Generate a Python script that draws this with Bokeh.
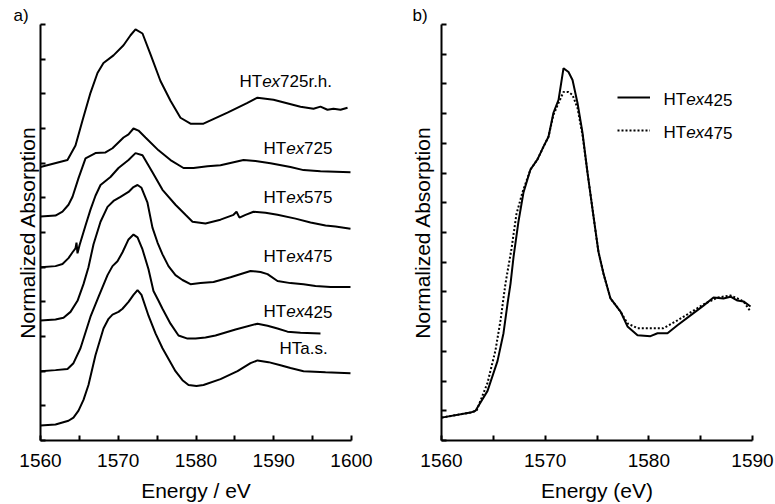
from bokeh.plotting import figure
from bokeh.layouts import row
from bokeh.models import (ColumnDataSource, Legend, LegendItem, FixedTicker,
                          CustomJSTickFormatter, Range1d)
from bokeh.core.properties import value
from bokeh.embed import file_html
from bokeh.resources import INLINE

FONT = "Liberation Sans"

# ---------------- panel a data (energy in eV, offset normalized absorption) ----------------
e_725rh = [1560.0, 1563.47, 1564.5, 1565.4, 1566.43, 1567.33, 1568.1, 1569.39, 1570.68, 1571.58,
           1572.22, 1573.12, 1574.15, 1575.43, 1576.72, 1578.0, 1579.29, 1580.96, 1584.05, 1586.62,
           1587.91, 1589.97, 1593.44, 1595.11, 1596.01, 1596.91, 1597.68, 1598.59, 1599.49]
a_725rh = [7.89, 8.09, 8.51, 9.23, 10.03, 10.6, 10.89, 11.11, 11.4, 11.69,
           11.86, 11.74, 11.14, 10.37, 9.8, 9.31, 9.14, 9.14, 9.46, 9.74,
           9.89, 9.83, 9.63, 9.57, 9.63, 9.54, 9.57, 9.54, 9.6]

e_725 = [1560.0, 1561.93, 1562.83, 1563.6, 1564.12, 1564.89, 1565.79, 1567.07, 1568.36, 1569.26,
         1570.68, 1571.32, 1571.96, 1572.6, 1573.5, 1575.18, 1576.72, 1578.39, 1579.68, 1581.48,
         1583.15, 1586.11, 1587.65, 1589.58, 1592.15, 1593.83, 1596.01, 1599.87]
a_725 = [6.46, 6.49, 6.6, 6.8, 7.03, 7.57, 8.14, 8.29, 8.31, 8.43,
         8.74, 8.83, 9.0, 8.94, 8.74, 8.37, 8.09, 7.86, 7.86, 7.91,
         7.94, 8.09, 8.06, 8.0, 7.89, 7.8, 7.77, 7.74]

e_575 = [1560.0, 1561.93, 1562.83, 1563.6, 1564.12, 1564.5, 1564.63, 1564.76, 1565.02, 1565.79,
         1566.43, 1567.07, 1567.72, 1569.0, 1570.03, 1571.32, 1572.22, 1573.12, 1574.4, 1575.69,
         1577.36, 1578.65, 1579.55, 1581.22, 1583.15, 1584.82, 1585.21, 1585.59, 1586.37, 1587.4,
         1588.94, 1590.48, 1592.8, 1594.73, 1596.66, 1597.94, 1599.87]
a_575 = [5.0, 5.03, 5.09, 5.26, 5.43, 5.54, 5.71, 5.4, 5.63, 6.2,
         6.66, 7.06, 7.37, 7.6, 7.86, 8.09, 8.29, 8.23, 7.74, 7.23,
         6.8, 6.51, 6.31, 6.26, 6.37, 6.51, 6.6, 6.43, 6.51, 6.6,
         6.57, 6.51, 6.4, 6.29, 6.2, 6.17, 6.11]

e_475 = [1560.0, 1561.93, 1562.96, 1563.86, 1564.76, 1565.53, 1566.17, 1566.82, 1567.72, 1568.62,
         1569.39, 1570.29, 1571.32, 1571.96, 1572.48, 1572.99, 1573.76, 1574.4, 1575.05, 1575.69,
         1576.46, 1577.36, 1578.26, 1579.29, 1580.58, 1582.25, 1584.44, 1587.01, 1588.3, 1589.2,
         1590.48, 1592.15, 1593.83, 1595.37, 1597.3, 1599.87]
a_475 = [3.46, 3.49, 3.54, 3.71, 4.03, 4.51, 5.0, 5.66, 6.31, 6.74,
         6.91, 7.03, 7.17, 7.31, 7.37, 7.29, 6.86, 6.14, 5.71, 5.37,
         5.03, 4.77, 4.63, 4.51, 4.54, 4.57, 4.71, 4.89, 4.86, 4.8,
         4.6, 4.54, 4.51, 4.46, 4.43, 4.43]

e_425 = [1560.0, 1561.93, 1563.47, 1564.24, 1565.14, 1566.43, 1567.46, 1568.62, 1569.26, 1569.9,
         1570.55, 1571.32, 1571.96, 1572.48, 1573.12, 1573.89, 1574.53, 1575.18, 1575.69, 1576.72,
         1577.75, 1578.91, 1579.94, 1581.22, 1582.51, 1585.08, 1587.91, 1589.2, 1590.48, 1591.77,
         1593.44, 1596.01]
a_425 = [2.0, 2.03, 2.06, 2.23, 2.66, 3.57, 4.14, 4.77, 5.03, 5.17,
         5.43, 5.8, 5.94, 5.86, 5.51, 4.94, 4.31, 4.03, 3.8, 3.37,
         3.03, 2.94, 2.94, 2.97, 3.03, 3.2, 3.37, 3.31, 3.23, 3.14,
         3.11, 3.09]

e_as = [1560.0, 1561.93, 1563.6, 1564.24, 1564.89, 1565.53, 1566.17, 1567.07, 1568.1, 1568.75,
        1569.26, 1570.03, 1570.55, 1571.32, 1571.96, 1572.48, 1572.99, 1573.89, 1574.79, 1575.69,
        1577.36, 1578.26, 1579.04, 1580.06, 1580.96, 1583.15, 1585.34, 1587.01, 1587.91, 1589.33,
        1590.87, 1592.15, 1593.83, 1596.66, 1599.87]
a_as = [0.43, 0.46, 0.57, 0.66, 0.86, 1.17, 1.6, 2.46, 3.23, 3.51,
        3.63, 3.71, 3.8, 4.0, 4.2, 4.34, 4.2, 3.6, 3.09, 2.66,
        2.0, 1.74, 1.6, 1.57, 1.6, 1.77, 2.0, 2.23, 2.31, 2.26,
        2.17, 2.09, 2.0, 1.97, 1.94]

series_a_names = ["HTex725r.h.", "HTex725", "HTex575", "HTex475", "HTex425", "HTa.s."]
series_a_e = [e_725rh, e_725, e_575, e_475, e_425, e_as]
series_a_y = [a_725rh, a_725, a_575, a_475, a_425, a_as]
# label anchor (left edge energy, vertical centre)
label_a_x = [1585.59, 1588.68, 1588.68, 1588.68, 1588.68, 1590.74]
label_a_y = [10.36, 8.43, 7.01, 5.31, 3.71, 2.66]

xticks_a = [1560, 1570, 1580, 1590, 1600]
xminor_a = [1565, 1575, 1585, 1595]
yticks_a = list(range(0, 13))

# ---------------- panel b data ----------------
e_b425 = [1560.0, 1562.8, 1563.28, 1564.44, 1565.4, 1565.98, 1566.37, 1566.66, 1566.95, 1567.43,
          1567.91, 1568.58, 1569.26, 1569.84, 1570.32, 1570.8, 1571.29, 1571.77, 1572.25, 1572.64,
          1573.12, 1573.6, 1574.08, 1574.66, 1575.14, 1575.63, 1576.3, 1577.27, 1577.94, 1578.91,
          1580.16, 1580.84, 1581.8, 1582.76, 1584.02, 1585.27, 1586.24, 1587.2, 1587.88, 1588.55,
          1589.13, 1589.81]
a_b425 = [0.77, 0.94, 1.0, 1.67, 2.67, 3.61, 4.61, 5.28, 6.18, 7.38,
          8.35, 9.12, 9.46, 9.89, 10.22, 11.03, 11.46, 12.53, 12.4, 12.13,
          11.36, 10.36, 9.02, 7.55, 6.35, 5.61, 4.78, 4.34, 3.84, 3.54,
          3.51, 3.61, 3.61, 3.88, 4.21, 4.54, 4.81, 4.78, 4.84, 4.71,
          4.68, 4.51]

e_b475 = [1560.0, 1562.8, 1563.38, 1563.76, 1564.44, 1565.21, 1565.69, 1566.17, 1566.75, 1567.23,
          1567.81, 1568.58, 1569.26, 1569.84, 1570.32, 1570.8, 1571.29, 1571.77, 1572.25, 1572.64,
          1573.12, 1573.6, 1574.08, 1574.66, 1575.14, 1575.63, 1576.3, 1577.27, 1577.94, 1578.91,
          1580.16, 1581.41, 1582.76, 1584.02, 1585.27, 1586.62, 1587.88, 1588.55, 1589.13, 1589.81]
a_b475 = [0.77, 0.94, 1.0, 1.34, 1.94, 3.04, 4.04, 5.28, 6.45, 7.62,
          8.35, 9.12, 9.46, 9.89, 10.22, 10.96, 11.36, 11.73, 11.73, 11.63,
          11.19, 10.29, 9.02, 7.55, 6.35, 5.61, 4.78, 4.34, 3.94, 3.78,
          3.78, 3.78, 4.04, 4.31, 4.58, 4.81, 4.88, 4.78, 4.68, 4.34]

series_b_names = ["HTex425", "HTex475"]
legend_b_x = [1581.41, 1581.41]
legend_b_y = [11.46, 10.36]

xticks_b = [1560, 1570, 1580, 1590]
xminor_b = [1565, 1575, 1585]
yticks_b = list(range(0, 15))


def style_axes(p, xticks, xminor, yticks, xlabel, ylabel_standoff):
    p.outline_line_color = None
    p.xgrid.visible = False
    p.ygrid.visible = False
    xa = p.xaxis[0]
    ya = p.yaxis[0]
    xa.ticker = FixedTicker(ticks=xticks, minor_ticks=xminor)
    ya.ticker = FixedTicker(ticks=yticks)
    ya.formatter = CustomJSTickFormatter(code="return ''")
    ya.major_label_text_font_size = "0px"
    ya.major_label_standoff = 0
    for ax in (xa, ya):
        ax.axis_line_width = 2
        ax.axis_line_color = "black"
        ax.major_tick_in = 5
        ax.major_tick_out = 0
        ax.minor_tick_in = 5
        ax.minor_tick_out = 0
        ax.major_tick_line_width = 2
        ax.minor_tick_line_width = 2
        ax.major_tick_line_color = "black"
        ax.minor_tick_line_color = "black"
        ax.axis_label_text_font = FONT
        ax.axis_label_text_font_size = "21px"
        ax.axis_label_text_font_style = "normal"
        ax.axis_label_text_color = "black"
    xa.major_label_text_font = FONT
    xa.major_label_text_font_size = "19px"
    xa.major_label_text_color = "black"
    xa.major_label_standoff = 13
    xa.axis_label = xlabel
    xa.axis_label_standoff = 9
    ya.axis_label = "Normalized Absorption"
    ya.axis_label_standoff = ylabel_standoff


def panel_tag(p, text, offset):
    p.title.text = text
    p.title.align = "left"
    p.title.offset = offset
    p.title.standoff = 0
    p.title.text_font = FONT
    p.title.text_font_size = "17px"
    p.title.text_font_style = "normal"
    p.title.text_color = "black"
    p.title.vertical_align = "bottom"


def styled_labels(p, names, xs, ys):
    """Draw 'HT' + italic 'ex' + rest as three text pieces."""
    src = ColumnDataSource(dict(x=xs, y=ys,
                                a=[s[:2] for s in names],
                                b=[s[2:4] for s in names],
                                c=[s[4:] for s in names]))
    common = dict(source=src, text_font=value(FONT), text_font_size="17px",
                  text_baseline="middle", text_align="left", text_color="black")
    p.text(x="x", y="y", text="a", **common)
    p.text(x="x", y="y", text="b", x_offset=22.7, text_font_style="italic", **common)
    p.text(x="x", y="y", text="c", x_offset=40.6, **common)


# ---------------- panel a ----------------
p1 = figure(width=398, height=504, x_range=Range1d(1560, 1600), y_range=Range1d(0, 12),
            output_backend="svg", toolbar_location=None,
            min_border_left=40, min_border_right=47, min_border_top=23, min_border_bottom=61)
style_axes(p1, xticks_a, xminor_a, yticks_a, "Energy / eV", 2)
for e, a in zip(series_a_e, series_a_y):
    p1.line(e, a, line_color="black", line_width=2)

italic_idx = [i for i, s in enumerate(series_a_names) if s.startswith("HTex")]
styled_labels(p1, [series_a_names[i] for i in italic_idx],
              [label_a_x[i] for i in italic_idx], [label_a_y[i] for i in italic_idx])
plain_idx = [i for i, s in enumerate(series_a_names) if not s.startswith("HTex")]
p1.text(x=[label_a_x[i] for i in plain_idx], y=[label_a_y[i] for i in plain_idx],
        text=[series_a_names[i] for i in plain_idx], text_font=value(FONT),
        text_font_size="17px", text_baseline="middle", text_align="left", text_color="black")
panel_tag(p1, "a)", -27)

# ---------------- panel b ----------------
p2 = figure(width=377, height=504, x_range=Range1d(1560, 1590), y_range=Range1d(0, 14),
            output_backend="svg", toolbar_location=None,
            min_border_left=43, min_border_right=23, min_border_top=24, min_border_bottom=61)
style_axes(p2, xticks_b, xminor_b, yticks_b, "Energy (eV)", 8)
r_solid = p2.line(e_b425, a_b425, line_color="black", line_width=2)
r_dot = p2.line(e_b475, a_b475, line_color="black", line_width=2, line_dash="2 2")

legend = Legend(items=[LegendItem(label=" ", renderers=[r_solid]),
                       LegendItem(label=" ", renderers=[r_dot])],
                location=(176, 300), glyph_width=33, glyph_height=20, spacing=13,
                padding=0, margin=0, border_line_color=None, background_fill_alpha=0,
                label_standoff=0, label_width=1, label_height=20)
p2.add_layout(legend)
styled_labels(p2, series_b_names, legend_b_x, legend_b_y)
panel_tag(p2, "b)", -29)

layout = row(p1, p2)
open("out.html", "w").write(file_html(layout, INLINE))
